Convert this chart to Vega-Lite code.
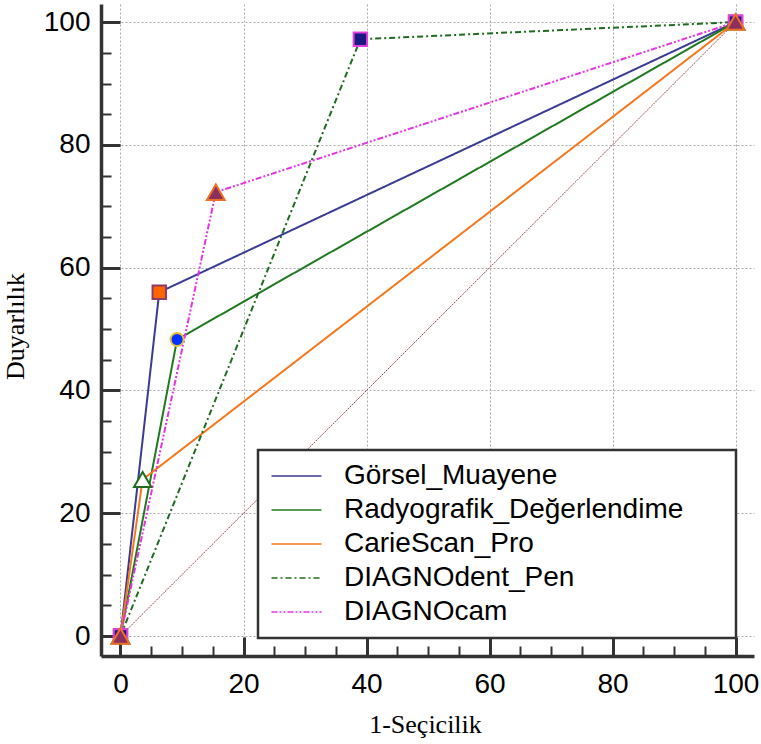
{
  "$schema": "https://vega.github.io/schema/vega-lite/v6.json",
  "width": 653,
  "height": 652,
  "autosize": {"type": "none"},
  "padding": {"left": 101, "top": 4, "right": 7, "bottom": 88},
  "background": "white",
  "config": {"view": {"stroke": null}, "font": "Liberation Sans"},
  "datasets": {
    "roc": [
      {"series": "Görsel_Muayene", "i": 0, "x": 0, "y": 0},
      {"series": "Görsel_Muayene", "i": 1, "x": 6.3, "y": 56.0},
      {"series": "Görsel_Muayene", "i": 2, "x": 100, "y": 100},
      {"series": "Radyografik_Değerlendime", "i": 0, "x": 0, "y": 0},
      {"series": "Radyografik_Değerlendime", "i": 1, "x": 9.2, "y": 48.3},
      {"series": "Radyografik_Değerlendime", "i": 2, "x": 100, "y": 100},
      {"series": "CarieScan_Pro", "i": 0, "x": 0, "y": 0},
      {"series": "CarieScan_Pro", "i": 1, "x": 3.6, "y": 25.5},
      {"series": "CarieScan_Pro", "i": 2, "x": 100, "y": 100},
      {"series": "DIAGNOdent_Pen", "i": 0, "x": 0, "y": 0},
      {"series": "DIAGNOdent_Pen", "i": 1, "x": 39.0, "y": 97.2},
      {"series": "DIAGNOdent_Pen", "i": 2, "x": 100, "y": 100},
      {"series": "DIAGNOcam", "i": 0, "x": 0, "y": 0},
      {"series": "DIAGNOcam", "i": 1, "x": 15.5, "y": 72.3},
      {"series": "DIAGNOcam", "i": 2, "x": 100, "y": 100}
    ],
    "diag": [
      {"x": 0, "y": 0},
      {"x": 100, "y": 100}
    ]
  },
  "layer": [
    {
      "data": {"name": "diag"},
      "mark": {"type": "line", "color": "#9a4a4a", "strokeWidth": 1, "strokeDash": [2, 1]},
      "encoding": {
        "x": {
          "field": "x", "type": "quantitative",
          "scale": {"domain": [-3.17, 103.0], "nice": false, "zero": false},
          "axis": {
            "orient": "bottom",
            "values": [0, 20, 40, 60, 80, 100],
            "title": "1-Seçicilik",
            "titleFont": "Liberation Serif", "titleFontSize": 26, "titleFontWeight": "normal", "titleColor": "black",
            "titleX": 324, "titleY": 76, "titleBaseline": "alphabetic", "titleAlign": "center",
            "labelFont": "Liberation Sans", "labelFontSize": 28, "labelColor": "black", "labelPadding": 33,
            "labelFlush": false, "labelOverlap": false,
            "domainColor": "#333333", "domainWidth": 3.5,
            "ticks": true, "tickSize": -19, "tickWidth": 3, "tickColor": "#333333",
            "grid": true, "gridColor": "#aaaaaa", "gridDash": [2, 2], "gridWidth": 1
          }
        },
        "y": {
          "field": "y", "type": "quantitative",
          "scale": {"domain": [-3.25, 102.95], "nice": false, "zero": false},
          "axis": {
            "orient": "left",
            "values": [0, 20, 40, 60, 80, 100],
            "title": "Duyarlılık",
            "titleFont": "Liberation Serif", "titleFontSize": 26, "titleFontWeight": "normal", "titleColor": "black",
            "titleX": -78, "titleY": 322, "titleBaseline": "alphabetic", "titleAlign": "center", "titleAngle": -90,
            "labelFont": "Liberation Sans", "labelFontSize": 28, "labelColor": "black", "labelPadding": 30,
            "labelFlush": false, "labelOverlap": false,
            "domainColor": "#333333", "domainWidth": 3.5,
            "ticks": true, "tickSize": -19, "tickWidth": 3, "tickColor": "#333333",
            "grid": true, "gridColor": "#aaaaaa", "gridDash": [2, 2], "gridWidth": 1
          }
        }
      }
    },
    {
      "data": {"name": "roc"},
      "mark": {"type": "line", "strokeWidth": 2},
      "encoding": {
        "x": {
          "field": "x", "type": "quantitative",
          "axis": {
            "orient": "bottom",
            "values": [5, 10, 15, 25, 30, 35, 45, 50, 55, 65, 70, 75, 85, 90, 95],
            "labels": false, "domain": false, "grid": false, "title": null,
            "ticks": true, "tickSize": -10, "tickWidth": 2, "tickColor": "#333333"
          }
        },
        "y": {
          "field": "y", "type": "quantitative",
          "axis": {
            "orient": "left",
            "values": [5, 10, 15, 25, 30, 35, 45, 50, 55, 65, 70, 75, 85, 90, 95],
            "labels": false, "domain": false, "grid": false, "title": null,
            "ticks": true, "tickSize": -10, "tickWidth": 2, "tickColor": "#333333"
          }
        },
        "order": {"field": "i", "type": "quantitative"},
        "color": {
          "field": "series", "type": "nominal",
          "scale": {
            "domain": ["Görsel_Muayene", "Radyografik_Değerlendime", "CarieScan_Pro", "DIAGNOdent_Pen", "DIAGNOcam"],
            "range": ["#3b3b94", "#1f7a1f", "#f5781e", "#1f6b1f", "#e633e6"]
          },
          "legend": {
            "orient": "none", "legendX": 157, "legendY": 446, "title": null,
            "symbolType": "M-1,0H3M34.9,0", "symbolSize": 625, "symbolStrokeWidth": 1.5,
            "labelFont": "Liberation Sans", "labelFontSize": 28, "labelColor": "black",
            "labelOffset": 46, "rowPadding": 6, "padding": 12, "labelLimit": 0,
            "strokeColor": "#333333", "fillColor": "white",
            "encode": {"legend": {"update": {"strokeWidth": {"value": 2.5}}}}
          }
        },
        "strokeDash": {
          "field": "series", "type": "nominal",
          "scale": {
            "domain": ["Görsel_Muayene", "Radyografik_Değerlendime", "CarieScan_Pro", "DIAGNOdent_Pen", "DIAGNOcam"],
            "range": [[1, 0], [1, 0], [1, 0], [6, 3, 2, 3], [6, 2, 2, 2, 2, 2]]
          },
          "legend": {
            "orient": "none", "legendX": 157, "legendY": 446, "title": null,
            "symbolType": "M-1,0H3M34.9,0", "symbolSize": 625, "symbolStrokeWidth": 1.5,
            "labelFont": "Liberation Sans", "labelFontSize": 28, "labelColor": "black",
            "labelOffset": 46, "rowPadding": 6, "padding": 12, "labelLimit": 0,
            "strokeColor": "#333333", "fillColor": "white",
            "encode": {"legend": {"update": {"strokeWidth": {"value": 2.5}}}}
          }
        }
      }
    },
    {
      "data": {"name": "roc"},
      "transform": [{"filter": "datum.series == 'Görsel_Muayene'"}],
      "mark": {"type": "point", "shape": "square", "filled": true, "opacity": 1, "fill": "#ff6600", "stroke": "#8b3a6b", "strokeWidth": 2, "size": 180},
      "encoding": {
        "x": {"field": "x", "type": "quantitative", "axis": null},
        "y": {"field": "y", "type": "quantitative", "axis": null}
      }
    },
    {
      "data": {"name": "roc"},
      "transform": [{"filter": "datum.series == 'Radyografik_Değerlendime'"}],
      "mark": {"type": "point", "shape": "circle", "filled": true, "opacity": 1, "fill": "#0033ff", "stroke": "#e8c040", "strokeWidth": 2, "size": 170},
      "encoding": {
        "x": {"field": "x", "type": "quantitative", "axis": null},
        "y": {"field": "y", "type": "quantitative", "axis": null}
      }
    },
    {
      "data": {"name": "roc"},
      "transform": [{"filter": "datum.series == 'CarieScan_Pro'"}],
      "mark": {"type": "point", "shape": "triangle-up", "filled": true, "opacity": 1, "fill": "#ffffff", "stroke": "#1f6b1f", "strokeWidth": 2, "size": 300},
      "encoding": {
        "x": {"field": "x", "type": "quantitative", "axis": null},
        "y": {"field": "y", "type": "quantitative", "axis": null}
      }
    },
    {
      "data": {"name": "roc"},
      "transform": [{"filter": "datum.series == 'DIAGNOdent_Pen'"}],
      "mark": {"type": "point", "shape": "square", "filled": true, "opacity": 1, "fill": "#1a1a80", "stroke": "#e040e0", "strokeWidth": 2, "size": 180},
      "encoding": {
        "x": {"field": "x", "type": "quantitative", "axis": null},
        "y": {"field": "y", "type": "quantitative", "axis": null}
      }
    },
    {
      "data": {"name": "roc"},
      "transform": [{"filter": "datum.series == 'DIAGNOcam'"}],
      "mark": {"type": "point", "shape": "triangle-up", "filled": true, "opacity": 1, "fill": "#8b2f5f", "stroke": "#ee7020", "strokeWidth": 2, "size": 320},
      "encoding": {
        "x": {"field": "x", "type": "quantitative", "axis": null},
        "y": {"field": "y", "type": "quantitative", "axis": null}
      }
    }
  ],
  "resolve": {"axis": {"x": "independent", "y": "independent"}}
}
